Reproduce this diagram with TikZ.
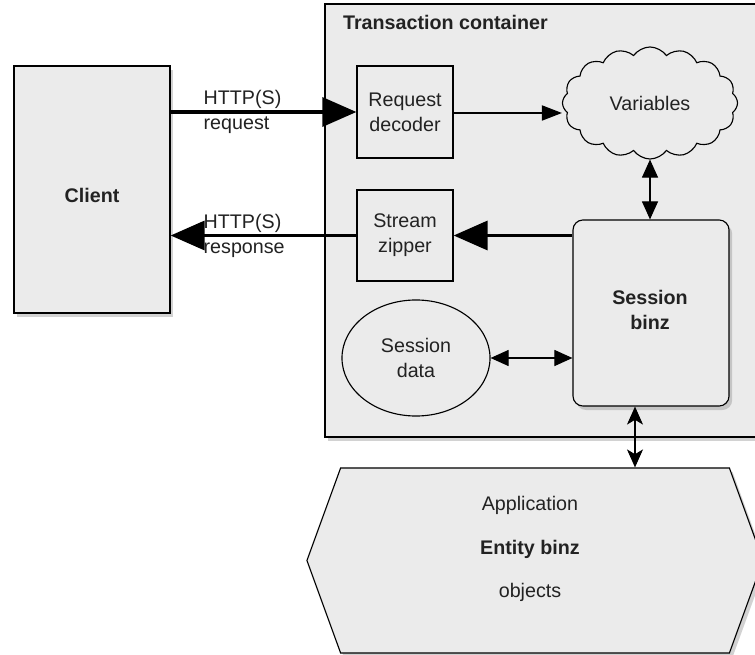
\documentclass[tikz,border=0pt]{standalone}
\usepackage{fontspec}
\setmainfont{Liberation Sans}
\usepackage{tikz}
\usetikzlibrary{calc,shapes,positioning}
\usetikzlibrary{shapes.symbols,shapes.geometric,shadows}
\usetikzlibrary{arrows.meta}
\definecolor{boxgray}{HTML}{EBEBEB}
\definecolor{txtgray}{HTML}{222222}
\newcommand{\dfont}{\fontsize{14}{17.7}\selectfont}

\begin{document}
\begin{tikzpicture}[x=0.025cm, y=-0.025cm, font=\dfont, text=txtgray]
    \tikzstyle{rnode} = [draw=black, fill=boxgray, rectangle, inner sep=2pt, align=center, line width=0.8pt]
    \tikzstyle{nnode} = [inner sep=2pt, align=center]
    \tikzstyle{shad} = [drop shadow={opacity=0.35, shadow xshift=0.08cm, shadow yshift=-0.1cm}]
    \tikzstyle{fat} = [line width=2.8pt, -{Triangle[length=0.85cm, width=0.72cm]}]
    \tikzstyle{slim} = [line width=0.8pt, -{Triangle[length=0.5cm, width=0.38cm]}]
    \tikzstyle{dbl} = [line width=0.8pt, {Triangle[length=0.45cm, width=0.4cm]}-{Triangle[length=0.45cm, width=0.4cm]}]
    \tikzstyle{dblst} = [line width=0.8pt, {Stealth[length=0.45cm, width=0.4cm, inset=0.12cm]}-{Stealth[length=0.45cm, width=0.4cm, inset=0.12cm]}]

    \useasboundingbox (0,0) rectangle (755,655);
    \fill[white] (0,0) rectangle (755,655);

    \node[rnode, shad, minimum width=3.9cm, minimum height=6.175cm] (client) at (92,189.5) {};
    \node[nnode, font=\dfont\bfseries] (clientlbl) at (92,195) {Client};

    \node[rnode, shad, minimum width=10.9cm, minimum height=10.825cm] (trans) at (543,220.5) {};
    \node[nnode, font=\dfont\bfseries, anchor=west] (translbl) at (340,22) {Transaction container};

    \node[rnode, minimum width=2.4cm, minimum height=2.3cm] (decoder) at (405,112) {Request\\decoder};
    \node[rnode, minimum width=2.4cm, minimum height=2.275cm] (zipper) at (405,235.5) {Stream\\zipper};

    \node[draw, fill=boxgray, cloud, cloud puffs=16, cloud puff arc=110, aspect=1.6, line width=0.8pt,
          minimum width=4.375cm, minimum height=2.8cm] (vars) at (650,103) {Variables};

    \node[rnode, shad, rounded corners=0.25cm, minimum width=3.9cm, minimum height=4.65cm] (binz) at (651,313) {};
    \node[nnode, font=\dfont\bfseries] (binzlbl) at (650,310) {Session\\binz};

    \node[draw, fill=boxgray, ellipse, align=center, line width=0.8pt, minimum width=3.7cm, minimum height=2.9cm] (sdata) at (416,358) {Session\\data};

    \node[draw, fill=boxgray, shad, signal, signal to=west and east, signal pointer angle=140, line width=0.8pt,
          minimum width=11.4cm, minimum height=4.625cm] (app) at (535,560.5) {};
    \node[nnode] (apptxt) at (530,549) {Application\\[13pt]{\bfseries Entity binz}\\[13pt]objects};

    \node[nnode, anchor=west, align=left] (reqlbl) at ([xshift=0.75cm]client.east |- decoder.west) {HTTP(S)\\request};
    \node[nnode, anchor=west, align=left] (resplbl) at ([xshift=0.75cm]client.east |- zipper.west) {HTTP(S)\\response};

    \draw[fat] (client.east |- decoder.west) -- (decoder.west);
    \draw[fat] (zipper.west) -- (client.east |- zipper.west);
    \draw[fat] (binz.west |- zipper.east) -- (zipper.east);
    \draw[slim] ([yshift=-0.025cm]decoder.east) -- ([yshift=-0.025cm]decoder.east -| vars.west);
    \draw[dbl] (vars.south) -- (vars.south |- binz.north);
    \draw[dbl] (sdata.east) -- (sdata.east -| binz.west);
    \draw[dblst] ([xshift=-0.4cm]binz.south) -- ([xshift=-0.4cm]binz.south |- app.north);

\end{tikzpicture}
\end{document}
